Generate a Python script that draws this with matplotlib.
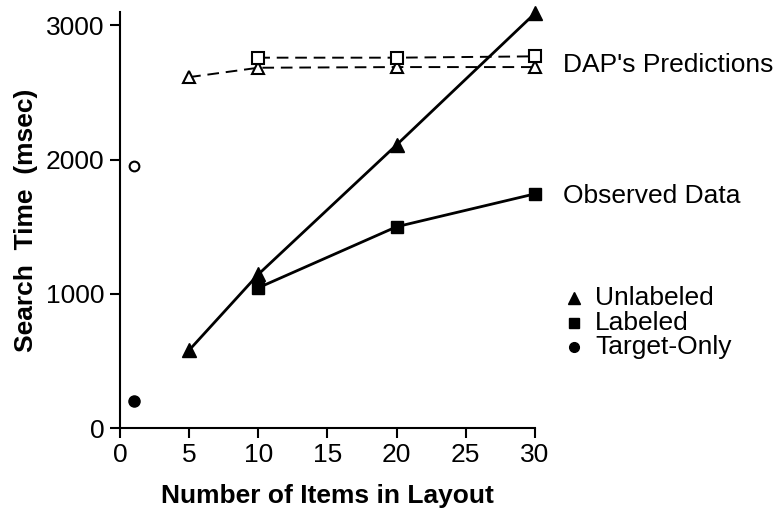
import matplotlib.pyplot as plt

plt.rcParams['font.family'] = ['Liberation Sans', 'DejaVu Sans']

# observed data
unl_x = [5, 10, 20, 30]
unl_y = [580, 1145, 2110, 3090]
lab_x = [10, 20, 30]
lab_y = [1045, 1500, 1745]
tgt_x = [1]
tgt_obs = [205]

# DAP's predictions
dap_unl_x = [5, 10, 20, 30]
dap_unl_y = [2615, 2685, 2690, 2690]
dap_lab_x = [10, 20, 30]
dap_lab_y = [2760, 2760, 2770]
dap_tgt = [1950]

legend_labels = ['Unlabeled', 'Labeled', 'Target-Only']
legend_markers = ['^', 's', 'o']

fig = plt.figure(figsize=(7.77, 5.11), dpi=100)
ax = fig.add_axes([0.1544, 0.1624, 0.534, 0.814])

ax.plot(dap_unl_x, dap_unl_y, color='black', lw=1.4, ls=(0, (6, 3.5)), marker='^', ms=8,
        mfc='white', mec='black', mew=1.5, clip_on=False, zorder=3)
ax.plot(dap_lab_x, dap_lab_y, color='black', lw=1.4, ls=(0, (6, 3.5)), marker='s', ms=8,
        mfc='white', mec='black', mew=1.5, clip_on=False, zorder=3)
ax.plot(tgt_x, dap_tgt, 'o', ms=7, mfc='white', mec='black', mew=1.5, clip_on=False)

ax.plot(unl_x, unl_y, '-', color='black', lw=2, marker='^', ms=10,
        clip_on=False, zorder=4)
ax.plot(lab_x, lab_y, '-', color='black', lw=2, marker='s', ms=8.5,
        clip_on=False, zorder=4)
ax.plot(tgt_x, tgt_obs, 'o', color='black', ms=8, clip_on=False)

ax.set_xlim(0, 30)
ax.set_ylim(0, 3100)
ax.set_xticks([0, 5, 10, 15, 20, 25, 30])
ax.set_yticks([0, 1000, 2000, 3000])
ax.spines['top'].set_visible(False)
ax.spines['right'].set_visible(False)
for s in ['left', 'bottom']:
    ax.spines[s].set_linewidth(1.5)
ax.tick_params(direction='out', length=7, width=1.5, labelsize=19, pad=4)

ax.set_xlabel('Number of Items in Layout', fontsize=19, fontweight='bold', labelpad=12)
ax.set_ylabel('Search  Time  (msec)', fontsize=19, fontweight='bold', labelpad=6)

fig.text(563 / 777, 1 - 65 / 511, "DAP's Predictions", fontsize=19, va='center')
fig.text(563 / 777, 1 - 196 / 511, "Observed Data", fontsize=19, va='center')

# legend for the marker shapes
for i, (m, lab) in enumerate(zip(legend_markers, legend_labels)):
    yf = 1 - (298 + 24.5 * i) / 511
    fig.lines.append(plt.Line2D([574 / 777], [yf], marker=m, ls='none', color='black',
                                ms=7 if m != '^' else 8, transform=fig.transFigure))
    fig.text(595 / 777, yf, lab, fontsize=19, va='center')

fig.savefig('out.png', dpi=100)
